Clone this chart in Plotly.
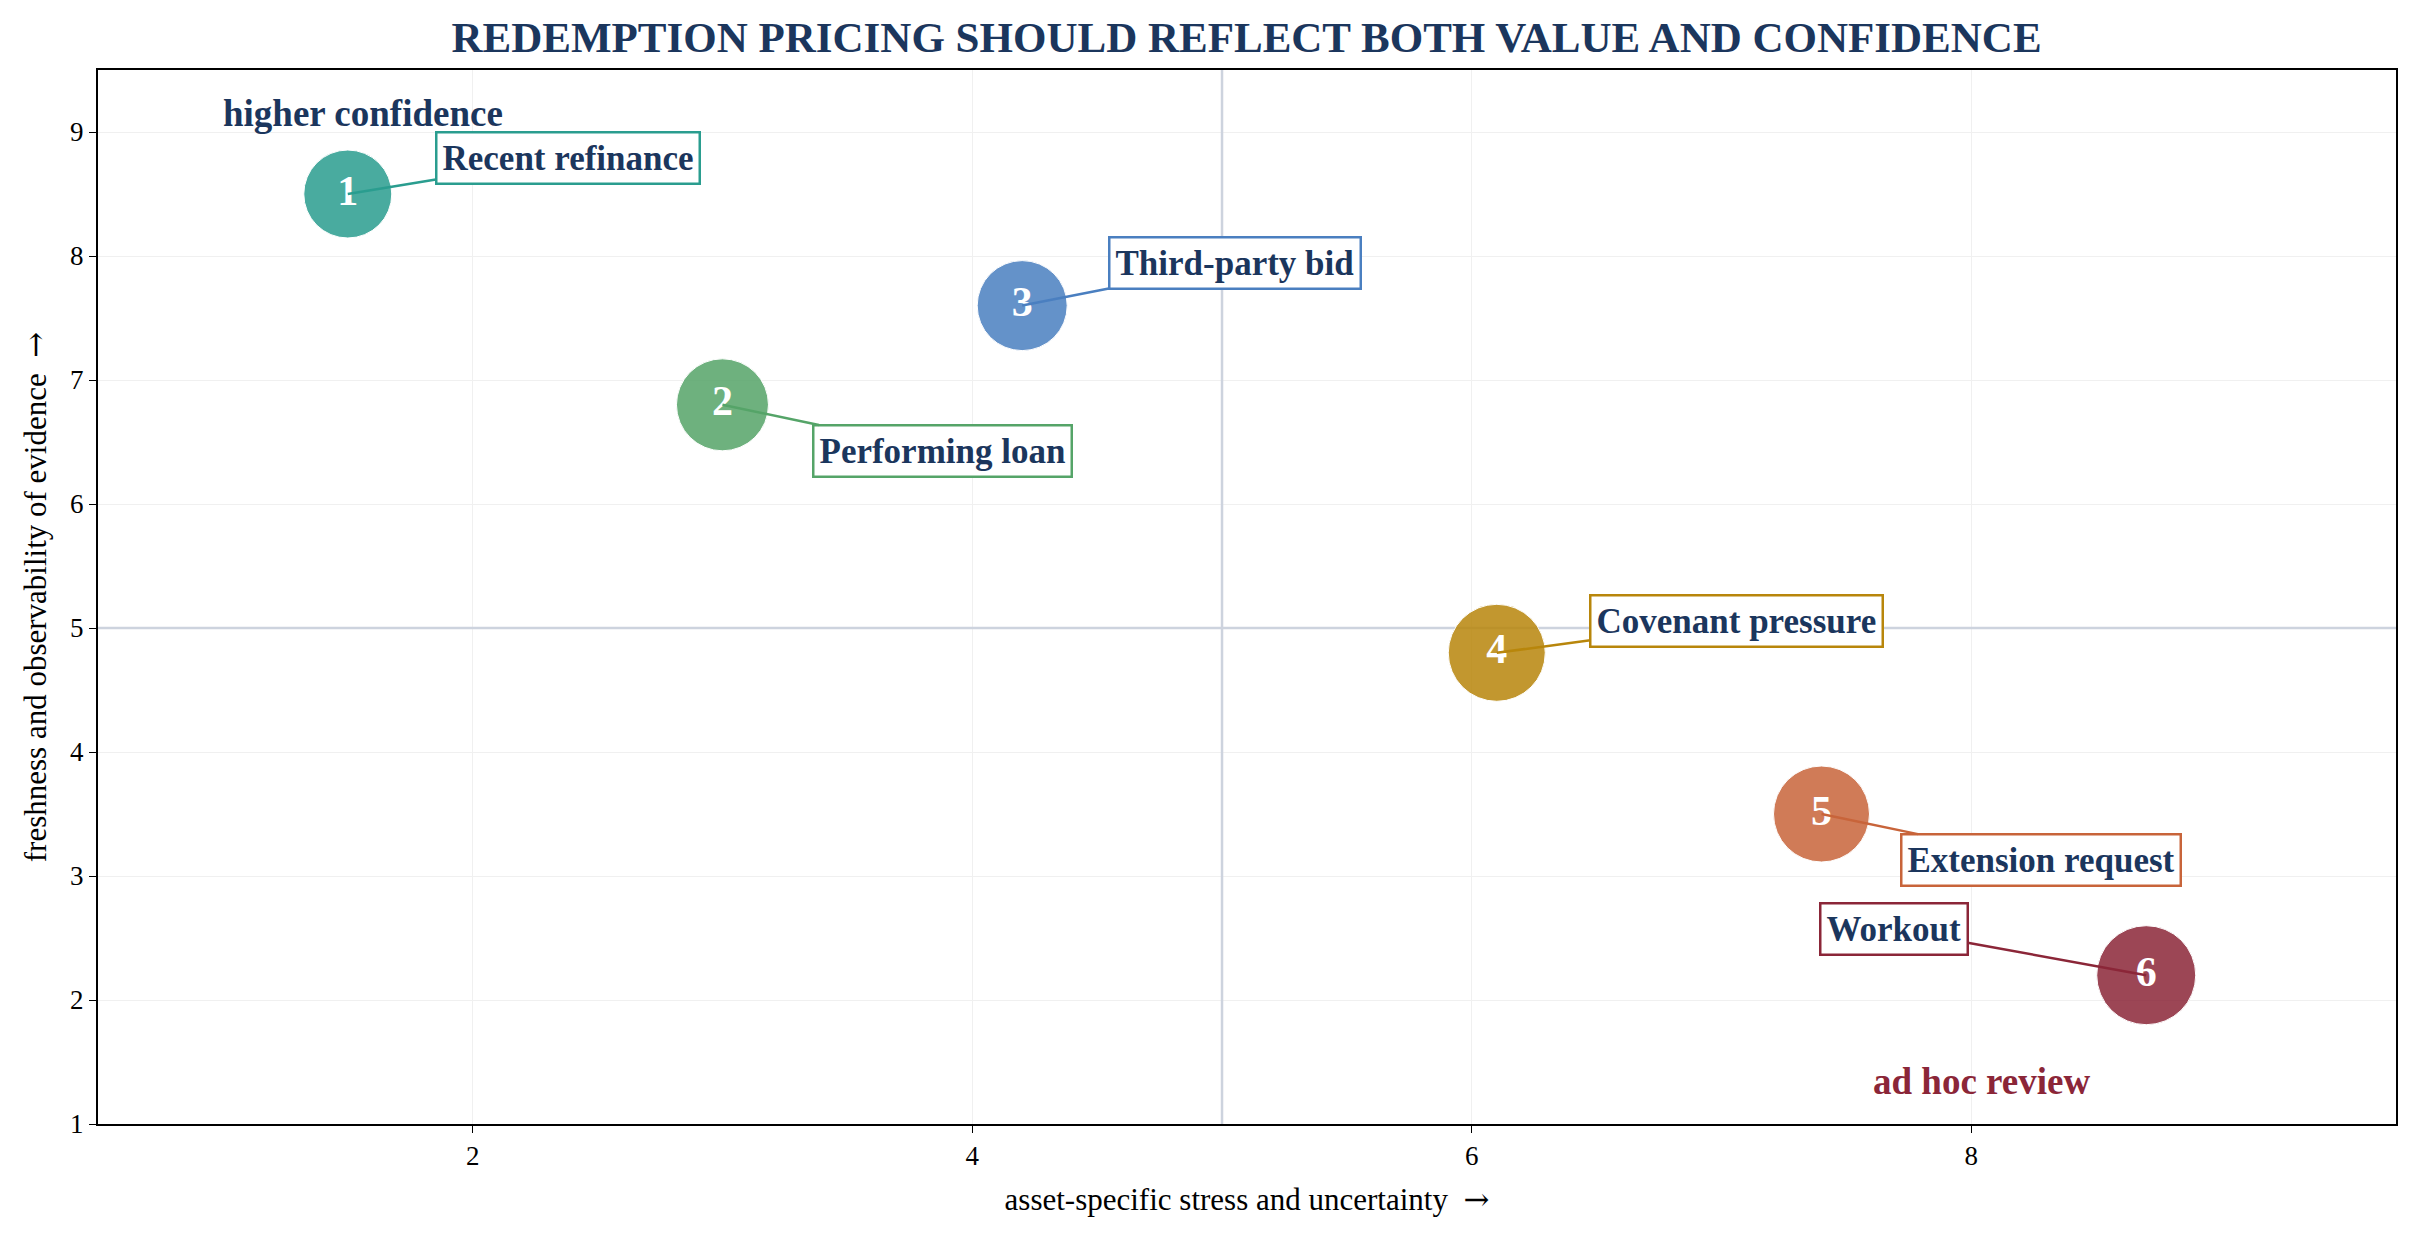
import plotly.graph_objects as go

# data
ids = ["1", "2", "3", "4", "5", "6"]
labels = ["Recent refinance", "Performing loan", "Third-party bid",
          "Covenant pressure", "Extension request", "Workout"]
stress = [1.5, 3.0, 4.2, 6.1, 7.4, 8.7]
evidence = [8.5, 6.8, 7.6, 4.8, 3.5, 2.2]
bubble = [88, 92, 90, 97, 96, 99]
colors = ["#2a9d8f", "#55a468", "#4a7fc0", "#b8860b", "#c8643a", "#8b2638"]
label_x = [2.38, 3.88, 5.05, 7.06, 8.28, 7.69]
label_y = [8.79, 6.43, 7.94, 5.06, 3.13, 2.57]

navy = "#1b365d"
serif = "Liberation Serif, Times New Roman, serif"
arrow = '<span style="font-family:DejaVu Serif">\u2192</span>'

fig = go.Figure()

# quadrant split
fig.add_shape(type="line", x0=5, x1=5, y0=1, y1=9.5, xref="x", yref="y",
              line=dict(color="#cdd3de", width=2.5), layer="between")
fig.add_shape(type="line", x0=0.5, x1=9.7, y0=5, y1=5, xref="x", yref="y",
              line=dict(color="#cdd3de", width=2.5), layer="between")

fig.add_trace(go.Scatter(
    x=stress, y=evidence, mode="markers+text", text=ids,
    textposition="middle center",
    textfont=dict(family=serif, size=42, color="white", weight="bold"),
    marker=dict(size=bubble, color=colors, opacity=0.85,
                line=dict(color="white", width=1)),
    hoverinfo="skip", showlegend=False,
))

for i in range(len(ids)):
    fig.add_annotation(
        x=stress[i], y=evidence[i], ax=label_x[i], ay=label_y[i],
        axref="x", ayref="y", text="<b>" + labels[i] + "</b>",
        showarrow=True, arrowhead=0, arrowwidth=2.5, arrowcolor=colors[i],
        standoff=0, font=dict(family=serif, size=35, color=navy),
        bgcolor="white", bordercolor=colors[i], borderwidth=2.5, borderpad=5,
    )

fig.add_annotation(x=1.56, y=9.15, text="<b>higher confidence</b>", showarrow=False,
                   font=dict(family=serif, size=37, color=navy))
fig.add_annotation(x=8.04, y=1.34, text="<b>ad hoc review</b>", showarrow=False,
                   font=dict(family=serif, size=37, color="#8b2638"))

fig.update_layout(
    width=2405, height=1219,
    margin=dict(l=90, r=17, t=62, b=103),
    paper_bgcolor="white", plot_bgcolor="white",
    font=dict(family=serif, color="black", size=27),
    title=dict(text="<b>REDEMPTION PRICING SHOULD REFLECT BOTH VALUE AND CONFIDENCE</b>",
               x=0.515, xanchor="center", y=0.976, yanchor="middle",
               font=dict(family=serif, size=43, color=navy)),
)
fig.update_xaxes(range=[0.5, 9.7], dtick=2, tick0=0, showgrid=True, gridcolor="#f0f0f0",
                 zeroline=False, showline=True, linecolor="black", linewidth=2, mirror=True,
                 ticks="outside", ticklen=7, tickcolor="black",
                 title=dict(text="asset-specific stress and uncertainty  " + arrow,
                            font=dict(size=31), standoff=18))
fig.update_yaxes(range=[1, 9.5], dtick=1, tick0=0, showgrid=True, gridcolor="#f0f0f0",
                 zeroline=False, showline=True, linecolor="black", linewidth=2, mirror=True,
                 ticks="outside", ticklen=7, tickcolor="black",
                 title=dict(text="freshness and observability of evidence  " + arrow,
                            font=dict(size=31), standoff=14))

fig.write_html("out.html")
